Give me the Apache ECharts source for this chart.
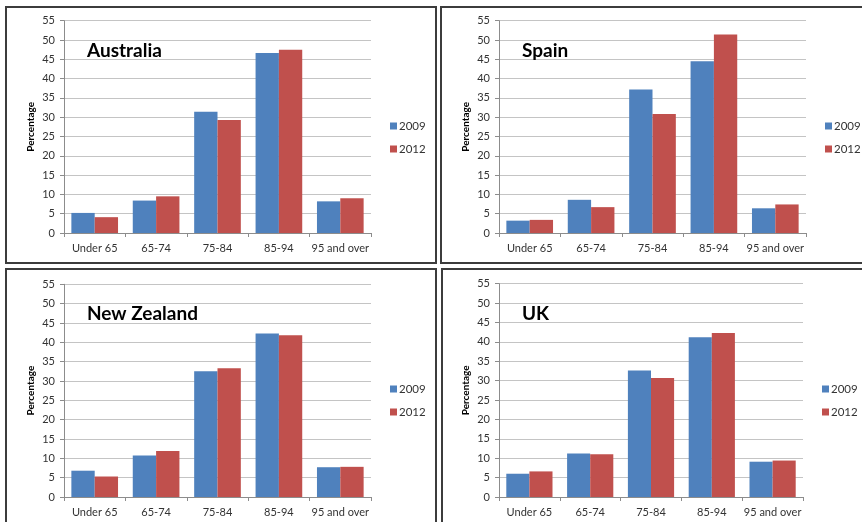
<!DOCTYPE html>
<html>
<head>
<meta charset="utf-8">
<style>
  html, body { margin: 0; padding: 0; background: #ffffff; }
  #chart { width: 862px; height: 522px; }
</style>
<script src="https://cdn.jsdelivr.net/npm/echarts@6/dist/echarts.min.js"></script>
</head>
<body>
<div id="chart"></div>
<script>
// Age groups shown on every panel
const ageGroups = ['Under 65', '65-74', '75-84', '85-94', '95 and over'];
const yearNames = ['2009', '2012'];
const yTicks = [0, 5, 10, 15, 20, 25, 30, 35, 40, 45, 50, 55];

// Percentage by age group, per country and year
const australia2009 = [5.2, 8.4, 31.4, 46.6, 8.2];
const australia2012 = [4.1, 9.5, 29.3, 47.5, 9.0];
const spain2009 = [3.2, 8.6, 37.2, 44.5, 6.4];
const spain2012 = [3.4, 6.7, 30.8, 51.4, 7.4];
const newZealand2009 = [6.8, 10.7, 32.5, 42.3, 7.7];
const newZealand2012 = [5.3, 11.9, 33.3, 41.8, 7.8];
const uk2009 = [6.0, 11.2, 32.6, 41.2, 9.1];
const uk2012 = [6.6, 11.0, 30.7, 42.3, 9.4];

const countries = ['Australia', 'Spain', 'New Zealand', 'UK'];
const seriesByCountry = [
  [australia2009, australia2012],
  [spain2009, spain2012],
  [newZealand2009, newZealand2012],
  [uk2009, uk2012]
];

// Layout of the four panels
const panels = [
  { box: [6, 7, 430, 256],   grid: { left: 64,  top: 20.7,  width: 307, height: 212.3 }, title: [87, 41],  legend: [390, 120] },
  { box: [441, 7, 430, 256], grid: { left: 499, top: 20.7,  width: 307, height: 212.3 }, title: [522, 41], legend: [825, 120] },
  { box: [6, 269, 430, 260], grid: { left: 64,  top: 284.3, width: 307, height: 212.7 }, title: [87, 304], legend: [390, 383] },
  { box: [442, 269, 430, 260], grid: { left: 499, top: 283.7, width: 304, height: 213.3 }, title: [522, 304], legend: [822, 383] }
];

const FONT = 'Lato, "Open Sans", sans-serif';
const BLUE = '#4F81BD';
const RED = '#C0504D';

const option = {
  animation: false,
  backgroundColor: '#ffffff',
  textStyle: { fontFamily: FONT },
  title: [],
  legend: [],
  grid: [],
  xAxis: [],
  yAxis: [],
  series: [],
  graphic: []
};

panels.forEach((p, i) => {
  option.graphic.push({
    type: 'rect',
    shape: { x: p.box[0], y: p.box[1], width: p.box[2], height: p.box[3] },
    style: { fill: 'none', stroke: '#3c3c3c', lineWidth: 2 },
    z: 100
  });
  option.title.push({
    text: countries[i],
    left: p.title[0],
    top: p.title[1],
    padding: 0,
    textStyle: { fontFamily: FONT, fontSize: 19, fontWeight: 'bold', color: '#000000' }
  });
  option.legend.push({
    data: yearNames,
    orient: 'vertical',
    left: p.legend[0],
    top: p.legend[1],
    padding: 0,
    itemWidth: 7,
    itemHeight: 7,
    itemGap: 11,
    icon: 'rect',
    selectedMode: false,
    textStyle: { fontFamily: FONT, fontSize: 11.5, color: '#333333', padding: [0, 0, 0, -3] }
  });
  option.grid.push(Object.assign({ containLabel: false }, p.grid));
  option.xAxis.push({
    type: 'category',
    gridIndex: i,
    data: ageGroups,
    axisLine: { lineStyle: { color: '#8c8c8c', width: 1 } },
    axisTick: { show: true, alignWithLabel: false, length: 4, lineStyle: { color: '#8c8c8c' } },
    axisLabel: { fontFamily: FONT, fontSize: 11, color: '#333333', margin: 10, interval: 0 },
    splitLine: { show: false }
  });
  option.yAxis.push({
    type: 'value',
    gridIndex: i,
    min: yTicks[0],
    max: yTicks[yTicks.length - 1],
    interval: yTicks[1] - yTicks[0],
    name: 'Percentage',
    nameLocation: 'middle',
    nameGap: 28,
    nameTextStyle: { fontFamily: FONT, fontSize: 10, fontWeight: 'bold', color: '#000000' },
    axisLine: { show: true, lineStyle: { color: '#8c8c8c', width: 1 } },
    axisTick: { show: true, length: 4, lineStyle: { color: '#8c8c8c' } },
    axisLabel: { fontFamily: FONT, fontSize: 11, color: '#333333', margin: 9 },
    splitLine: { show: true, lineStyle: { color: '#c4c4c4', width: 1 } }
  });
  seriesByCountry[i].forEach((values, k) => {
    option.series.push({
      name: yearNames[k],
      type: 'bar',
      xAxisIndex: i,
      yAxisIndex: i,
      data: values,
      barGap: '0%',
      barCategoryGap: '24%',
      itemStyle: { color: k === 0 ? BLUE : RED }
    });
  });
});

const chart = echarts.init(document.getElementById('chart'), null, { renderer: 'canvas' });
chart.setOption(option);
</script>
</body>
</html>
